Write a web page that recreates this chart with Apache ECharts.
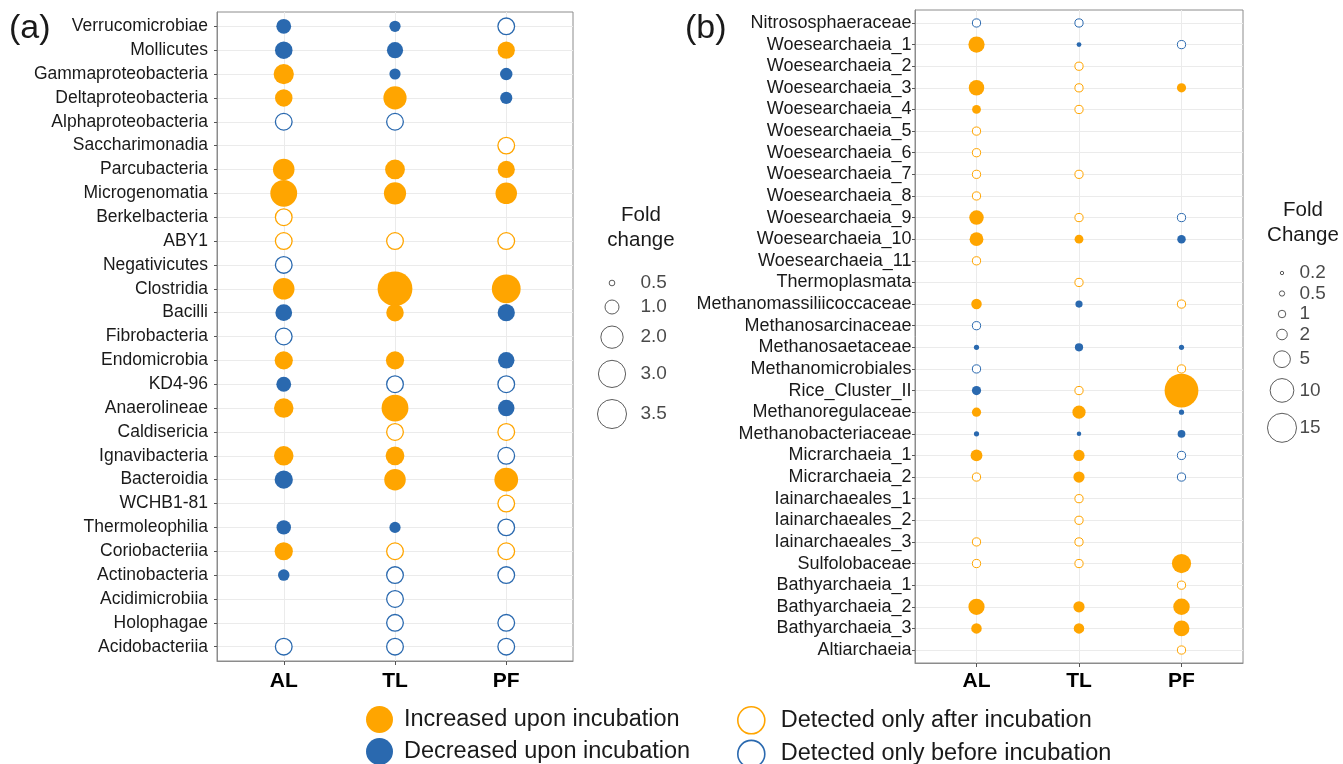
<!DOCTYPE html>
<html><head><meta charset="utf-8">
<script src="https://cdn.jsdelivr.net/npm/echarts@6/dist/echarts.min.js"></script>
<style>html,body{margin:0;padding:0;background:#fff}#c{width:1343px;height:764px}</style>
</head><body><div id="c"></div>
<script>
// ---------------- DATA ----------------
const sites = ['AL', 'TL', 'PF'];

// Panel (a): bacterial classes (top to bottom)
const bactCategories = ['Verrucomicrobiae','Mollicutes','Gammaproteobacteria','Deltaproteobacteria','Alphaproteobacteria','Saccharimonadia','Parcubacteria','Microgenomatia','Berkelbacteria','ABY1','Negativicutes','Clostridia','Bacilli','Fibrobacteria','Endomicrobia','KD4-96','Anaerolineae','Caldisericia','Ignavibacteria','Bacteroidia','WCHB1-81','Thermoleophilia','Coriobacteriia','Actinobacteria','Acidimicrobiia','Holophagae','Acidobacteriia'];
// type codes: I = increased, D = decreased, A = detected only after, B = detected only before, '' = none
const bactAL_type = ['D','D','I','I','B','','I','I','A','A','B','I','D','B','I','D','I','','I','D','','D','I','D','','','B'];
const bactAL_fold = [1.07,1.34,1.68,1.34,1.25,null,1.87,2.91,1.25,1.25,1.25,1.87,1.26,1.25,1.42,1.07,1.58,null,1.58,1.42,null,1.04,1.42,0.81,null,null,1.25];
const bactTL_type = ['D','D','D','I','B','','I','I','','A','','I','I','','I','B','I','A','I','I','','D','A','B','B','B','B'];
const bactTL_fold = [0.79,1.2,0.79,2.15,1.25,null,1.62,1.98,null,1.25,null,5.66,1.34,null,1.42,1.25,2.91,1.25,1.49,1.87,null,0.79,1.25,1.25,1.25,1.25,1.25];
const bactPF_type = ['B','I','D','D','','A','I','I','','A','','I','D','','D','B','D','A','B','I','A','B','A','B','','B','B'];
const bactPF_fold = [1.25,1.31,0.88,0.86,null,1.25,1.31,1.87,null,1.25,null,3.43,1.31,null,1.23,1.25,1.23,1.25,1.25,2.26,1.25,1.25,1.25,1.25,null,1.25,1.25];

// Panel (b): archaeal groups (top to bottom)
const archCategories = ['Nitrososphaeraceae','Woesearchaeia_1','Woesearchaeia_2','Woesearchaeia_3','Woesearchaeia_4','Woesearchaeia_5','Woesearchaeia_6','Woesearchaeia_7','Woesearchaeia_8','Woesearchaeia_9','Woesearchaeia_10','Woesearchaeia_11','Thermoplasmata','Methanomassiliicoccaceae','Methanosarcinaceae','Methanosaetaceae','Methanomicrobiales','Rice_Cluster_II','Methanoregulaceae','Methanobacteriaceae','Micrarchaeia_1','Micrarchaeia_2','Iainarchaeales_1','Iainarchaeales_2','Iainarchaeales_3','Sulfolobaceae','Bathyarchaeia_1','Bathyarchaeia_2','Bathyarchaeia_3','Altiarchaeia'];
const archAL_type = ['B','I','','I','I','A','A','A','A','I','I','A','','I','B','D','B','D','I','D','I','A','','','A','A','','I','I',''];
const archAL_fold = [1.2,4.67,null,4.27,1.38,1.2,1.2,1.2,1.2,3.74,3.39,1.2,null,1.96,1.2,0.48,1.2,1.5,1.5,0.48,2.48,1.2,null,null,1.2,1.2,null,4.67,1.96,null];
const archTL_type = ['B','D','A','A','A','','','A','','A','I','','A','D','','D','','A','I','D','I','I','A','A','A','A','','I','I',''];
const archTL_fold = [1.2,0.41,1.2,1.2,1.2,null,null,1.2,null,1.2,1.38,null,1.2,0.92,null,1.2,null,1.2,3.1,0.36,2.23,2.23,1.2,1.2,1.2,1.2,null,2.23,1.96,null];
const archPF_type = ['','B','','I','','','','','','B','D','','','A','','D','A','I','D','D','B','B','','','','I','A','I','I','A'];
const archPF_fold = [null,1.2,null,1.5,null,null,null,null,null,1.2,1.28,null,null,1.2,null,0.48,1.2,20.3,0.48,1.08,1.2,1.2,null,null,null,6.55,1.2,4.84,4.44,1.2];

// Size legends
const bactLegendValues = [0.5, 1.0, 2.0, 3.0, 3.5];
const bactLegendLabels = ['0.5', '1.0', '2.0', '3.0', '3.5'];
const archLegendValues = [0.2, 0.5, 1, 2, 5, 10, 15];
const archLegendLabels = ['0.2', '0.5', '1', '2', '5', '10', '15'];

const typeNames = {
  I: 'Increased upon incubation',
  D: 'Decreased upon incubation',
  A: 'Detected only after incubation',
  B: 'Detected only before incubation'
};

// ---------------- STYLE ----------------
const FONT = "'Liberation Sans', Arial, Helvetica, sans-serif";
const ORANGE = '#FFA500', BLUE = '#2A69AF', FRAME = '#8C8C8C', GRIDC = '#EBEBEB', TXT = '#1a1a1a';

const sizeA = v => 14 + 12 * Math.log(v);
const sizeB = v => 7.5 * Math.sqrt(v);

function panelSeries(axisIdx, typesBySite, foldsBySite, sizeFn, openBW) {
  return ['I', 'D', 'A', 'B'].map(k => {
    const data = [];
    typesBySite.forEach((types, s) => types.forEach((t, r) => {
      if (t === k) data.push([s, r, foldsBySite[s][r]]);
    }));
    const filled = (k === 'I' || k === 'D');
    const col = (k === 'I' || k === 'A') ? ORANGE : BLUE;
    return {
      name: typeNames[k], type: 'scatter', xAxisIndex: axisIdx, yAxisIndex: axisIdx,
      data: data, symbol: 'circle', symbolSize: d => sizeFn(d[2]),
      itemStyle: filled ? { color: col, opacity: 1 } : { color: '#fff', borderColor: col, borderWidth: openBW, opacity: 1 },
      z: filled ? 2 : 3, silent: true, emphasis: { disabled: true }
    };
  });
}

function xAx(gridIndex, margin) {
  const idx = sites.map((_, i) => i);
  return {
    type: 'value', gridIndex: gridIndex, min: -0.6, max: sites.length - 0.4,
    axisLine: { show: true, onZero: false, lineStyle: { color: FRAME, width: 1 } },
    axisTick: { show: true, length: 4, customValues: idx, lineStyle: { color: '#555' } },
    axisLabel: { customValues: idx, formatter: v => sites[Math.round(v)], fontSize: 21, fontWeight: 'bold', color: '#000', margin: margin, fontFamily: FONT },
    splitLine: { show: true, lineStyle: { color: GRIDC, width: 1 } }
  };
}
function yAx(gridIndex, cats, margin, fs) {
  const idx = cats.map((_, i) => i);
  return {
    type: 'value', gridIndex: gridIndex, inverse: true, min: -0.6, max: cats.length - 0.4,
    axisLine: { show: true, onZero: false, lineStyle: { color: FRAME, width: 1 } },
    axisTick: { show: true, length: 3, customValues: idx, lineStyle: { color: '#555' } },
    axisLabel: { customValues: idx, formatter: v => cats[Math.round(v)], fontSize: fs, color: TXT, margin: margin, fontFamily: FONT },
    splitLine: { show: true, lineStyle: { color: GRIDC, width: 1 } }
  };
}

function sizeLegendSeries(values, labels, sizeFn, cx, lx, y0, minGap, pad, bw) {
  const ys = []; let y = y0;
  values.forEach((v, i) => {
    if (i > 0) y += Math.max(minGap, (sizeFn(values[i - 1]) + sizeFn(v)) / 2 + pad);
    ys.push(y);
  });
  return [
    { type: 'scatter', xAxisIndex: 2, yAxisIndex: 2, silent: true,
      data: values.map((v, i) => [cx, ys[i], v]), symbolSize: d => sizeFn(d[2]),
      itemStyle: { color: '#fff', borderColor: '#333', borderWidth: bw } },
    { type: 'scatter', xAxisIndex: 2, yAxisIndex: 2, silent: true,
      data: labels.map((l, i) => ({ name: l, value: [lx, ys[i]] })), symbolSize: 1,
      itemStyle: { color: 'rgba(0,0,0,0)' },
      label: { show: true, position: 'right', distance: 0, formatter: '{b}', fontSize: 19, color: TXT, fontFamily: FONT } }
  ];
}

const series = [].concat(
  panelSeries(0, [bactAL_type, bactTL_type, bactPF_type], [bactAL_fold, bactTL_fold, bactPF_fold], sizeA, 1.3),
  panelSeries(1, [archAL_type, archTL_type, archPF_type], [archAL_fold, archTL_fold, archPF_fold], sizeB, 1.0),
  sizeLegendSeries(bactLegendValues, bactLegendLabels, sizeA, 612, 640, 283, 24, 12, 1),
  sizeLegendSeries(archLegendValues, archLegendLabels, sizeB, 1282, 1299, 273, 20.5, 11, 1)
);

const legendText = { fontSize: 23.5, color: TXT, fontFamily: FONT };
const option = {
  animation: false, backgroundColor: '#fff',
  textStyle: { fontFamily: FONT },
  grid: [
    { left: 217, top: 12, width: 356, height: 649, show: true, borderColor: FRAME, borderWidth: 1 },
    { left: 915, top: 10, width: 328, height: 653, show: true, borderColor: FRAME, borderWidth: 1 },
    { left: 0, top: 0, right: 0, bottom: 0 }
  ],
  xAxis: [xAx(0, 10), xAx(1, 8), { gridIndex: 2, type: 'value', min: 0, max: 1343, show: false }],
  yAxis: [yAx(0, bactCategories, 9, 17.5), yAx(1, archCategories, 3.5, 18), { gridIndex: 2, type: 'value', min: 0, max: 764, inverse: true, show: false }],
  legend: [
    { orient: 'vertical', left: 366, top: 706, height: 80, padding: 0, itemWidth: 27, itemHeight: 27, itemGap: 5, icon: 'circle', selectedMode: false,
      data: [typeNames.I, typeNames.D], textStyle: Object.assign({ padding: [0, 0, 0, 6] }, legendText) },
    { orient: 'vertical', left: 737, top: 706, height: 80, padding: 0, itemWidth: 27, itemHeight: 27, itemGap: 5, icon: 'circle', selectedMode: false,
      data: [{ name: typeNames.A, itemStyle: { borderWidth: 1.6 } }, { name: typeNames.B, itemStyle: { borderWidth: 1.6 } }],
      textStyle: Object.assign({ padding: [0, 0, 0, 11] }, legendText) }
  ],
  graphic: [
    { type: 'text', x: 9, y: 12, style: { text: '(a)', fontSize: 34, fontFamily: FONT, fill: TXT } },
    { type: 'text', x: 685, y: 12, style: { text: '(b)', fontSize: 34, fontFamily: FONT, fill: TXT } },
    { type: 'text', x: 641, y: 203, style: { text: 'Fold\nchange', fontSize: 20.5, lineHeight: 25, align: 'center', verticalAlign: 'top', fontFamily: FONT, fill: TXT } },
    { type: 'text', x: 1303, y: 198, style: { text: 'Fold\nChange', fontSize: 20.5, lineHeight: 25, align: 'center', verticalAlign: 'top', fontFamily: FONT, fill: TXT } }
  ],
  series: series
};

const chart = echarts.init(document.getElementById('c'), null, { renderer: 'canvas' });
chart.setOption(option);
</script>
</body></html>
